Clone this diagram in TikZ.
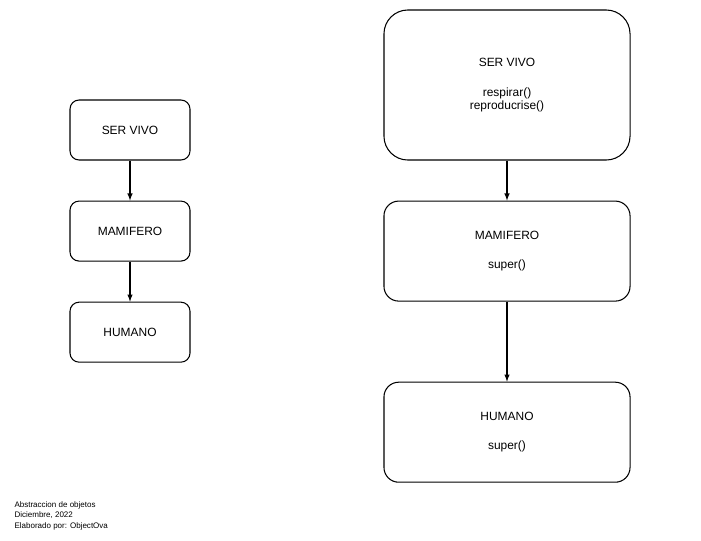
\documentclass[tikz,border=0pt]{standalone}
\usepackage{fontspec}
\setmainfont{Liberation Sans}
\usepackage{tikz}
\usetikzlibrary{positioning}
\begin{document}
\begin{tikzpicture}[x=0.025cm, y=-0.025cm, line width=0.75pt, draw=black,
	every node/.style={font=\fontsize{8.5}{9.6}\selectfont},
	smallbox/.style={rectangle, rounded corners=6.5pt, draw=black, minimum width=3cm, minimum height=1.5cm, inner sep=0pt},
	bigbox/.style={rectangle, draw=black, minimum width=6.15cm, inner sep=0pt, align=center}]
		\tikzset{>=latex}
		\useasboundingbox (0,0) rectangle (701,540);
		
		% izquierda
		\node[smallbox] (servivo) at (130,130) {SER VIVO};
		\node[smallbox, below=1cm of servivo] (mamifero) {MAMIFERO};
		\node[smallbox, below=1cm of mamifero] (humano) {HUMANO};
		
		\path (servivo) edge[->] (mamifero);
		\path (mamifero) edge[->] (humano);
		
		% derecha
		\node[bigbox, rounded corners=17pt, minimum height=3.75cm] (servivo2) at (507,85) {SER VIVO\\[11.7pt]respirar()\\reproducrise()};
		\node[bigbox, rounded corners=10.5pt, minimum height=2.5cm, below=1cm of servivo2] (mamifero2) {MAMIFERO\\[11pt]super()};
		\node[bigbox, rounded corners=10.5pt, minimum height=2.5cm, below=2cm of mamifero2] (humano2) {HUMANO\\[11pt]super()};
		
		\path (servivo2) edge[->] (mamifero2);
		\path (mamifero2) edge[->] (humano2);
		
		% pie
		\node[anchor=north west, align=left, inner sep=0pt, font=\fontsize{5.7}{7.5}\selectfont] (pie) at (14,501) {Abstraccion de objetos\\Diciembre, 2022\\Elaborado por: ObjectOva};
\end{tikzpicture}
\end{document}
